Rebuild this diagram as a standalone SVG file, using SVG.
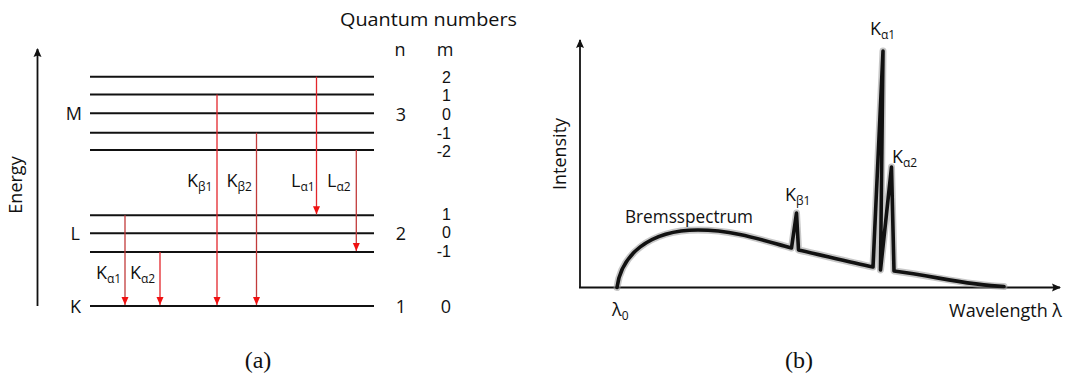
<svg xmlns="http://www.w3.org/2000/svg" width="1065" height="378" viewBox="0 0 1065 378">
<style>
.t{font-family:"Open Sans","Liberation Sans",sans-serif;font-size:18px;fill:#111}
.s{font-size:12px}
.num{font-family:"Liberation Sans",Arial,sans-serif;font-size:16px;fill:#111}
.lvl{stroke:#111;stroke-width:2}
.tb{stroke:#e3262b;stroke-width:1.3}
.td{stroke:#c23b3b;stroke-width:1.3}
.ax{stroke:#111;stroke-width:1.8;fill:none}
.cap{font-family:"Liberation Serif","DejaVu Serif",serif;font-size:24px;fill:#111}
</style>
<defs>
<marker id="ra" markerUnits="userSpaceOnUse" markerWidth="8" markerHeight="9" viewBox="0 0 8 9" refX="4" refY="8.5" orient="0">
<path d="M0.5,0.5 L7.5,0.5 L4,8.5 Z" fill="#f01010"/>
</marker>
<marker id="ka" markerUnits="userSpaceOnUse" markerWidth="10" markerHeight="10" viewBox="0 0 10 10" refX="5" refY="1" orient="0">
<path d="M5,0 L9,9 L5,7.5 L1,9 Z" fill="#111"/>
</marker>
<marker id="kx" markerUnits="userSpaceOnUse" markerWidth="10" markerHeight="10" viewBox="0 0 10 10" refX="9" refY="5" orient="0">
<path d="M10,5 L1,1 L2.5,5 L1,9 Z" fill="#111"/>
</marker>
</defs>

<!-- Panel (a): energy levels -->
<g id="energy-axis">
<line class="ax" x1="37.5" y1="306" x2="37.5" y2="49" marker-end="url(#ka)" stroke-width="1.6"/>
<text class="t" transform="translate(22,185) rotate(-90)" text-anchor="middle">Energy</text>
</g>
<g id="header">
<text class="t" x="340" y="26" font-size="20" textLength="177" lengthAdjust="spacingAndGlyphs">Quantum numbers</text>
<text class="t" x="400" y="56" text-anchor="middle">n</text>
<text class="t" x="445" y="56" text-anchor="middle">m</text>
</g>
<g id="shell-M">
<line class="lvl" x1="90" y1="76.7" x2="374" y2="76.7"/>
<line class="lvl" x1="90" y1="94.5" x2="374" y2="94.5"/>
<line class="lvl" x1="90" y1="113.3" x2="374" y2="113.3"/>
<line class="lvl" x1="90" y1="132.7" x2="374" y2="132.7"/>
<line class="lvl" x1="90" y1="150" x2="374" y2="150"/>
<text class="t" x="82" y="120" text-anchor="end">M</text>
<text class="t" x="401" y="121" text-anchor="middle">3</text>
<g text-anchor="end">
<text class="num" x="451" y="83">2</text>
<text class="num" x="451" y="101">1</text>
<text class="num" x="451" y="119.5">0</text>
<text class="num" x="451" y="138.5">-1</text>
<text class="num" x="451" y="156.5">-2</text>
</g>
</g>
<g id="shell-L">
<line class="lvl" x1="90" y1="215.3" x2="374" y2="215.3"/>
<line class="lvl" x1="90" y1="233.3" x2="374" y2="233.3"/>
<line class="lvl" x1="90" y1="252" x2="374" y2="252"/>
<text class="t" x="80" y="239.5" text-anchor="end">L</text>
<text class="t" x="401" y="239.5" text-anchor="middle">2</text>
<g text-anchor="end">
<text class="num" x="451" y="219.5">1</text>
<text class="num" x="451" y="238">0</text>
<text class="num" x="451" y="256.5">-1</text>
</g>
</g>
<g id="shell-K">
<line class="lvl" x1="90" y1="306" x2="374" y2="306"/>
<text class="t" x="81" y="312.5" text-anchor="end">K</text>
<text class="t" x="401" y="312.5" text-anchor="middle">1</text>
<text class="t" x="451" y="312.5" text-anchor="end">0</text>
</g>

<g id="transitions">
<line class="tb" x1="217" y1="94.5" x2="217" y2="305" marker-end="url(#ra)"/>
<line class="td" x1="256.5" y1="132.7" x2="256.5" y2="305" marker-end="url(#ra)"/>
<line class="tb" x1="316.5" y1="76.7" x2="316.5" y2="214.3" marker-end="url(#ra)"/>
<line class="td" x1="356.3" y1="150" x2="356.3" y2="251" marker-end="url(#ra)"/>
<line class="td" x1="125" y1="215.3" x2="125" y2="305" marker-end="url(#ra)"/>
<line class="tb" x1="160" y1="252" x2="160" y2="305" marker-end="url(#ra)"/>
</g>
<g id="transition-labels">
<text class="t" x="187" y="187">K<tspan class="s" dy="4">β1</tspan></text>
<text class="t" x="226.5" y="187">K<tspan class="s" dy="4">β2</tspan></text>
<text class="t" x="291" y="187">L<tspan class="s" dy="4">α1</tspan></text>
<text class="t" x="327" y="187">L<tspan class="s" dy="4">α2</tspan></text>
<text class="t" x="96" y="279">K<tspan class="s" dy="4">α1</tspan></text>
<text class="t" x="130" y="279">K<tspan class="s" dy="4">α2</tspan></text>
</g>
<text class="cap" x="258" y="368" text-anchor="middle">(a)</text>

<!-- Panel (b): spectrum -->
<g id="spectrum-axes">
<line class="ax" x1="580" y1="288" x2="580" y2="40" marker-end="url(#ka)"/>
<line class="ax" x1="579" y1="287.5" x2="1060" y2="287.5" marker-end="url(#kx)"/>
<text class="t" transform="translate(566,154) rotate(-90)" text-anchor="middle">Intensity</text>
<text class="t" x="1062" y="317" text-anchor="end">Wavelength λ</text>
<text class="t" x="612" y="316">λ<tspan class="s" dy="4">0</tspan></text>
</g>
<g id="spectrum-curve">
<path d="M617,287.5 C621,256 648,230 698,230 C735,230 765,241 791.5,248 L796.5,213 L798.5,250 C825,256 850,262 873,267 L883,51 L880.5,270 L891.5,167 L894,271 C935,276 965,285 1004,286.5" fill="none" stroke="#999" stroke-opacity="0.55" stroke-width="7" stroke-linejoin="round" stroke-linecap="round"/>
<path d="M617,287.5 C621,256 648,230 698,230 C735,230 765,241 791.5,248 L796.5,213 L798.5,250 C825,256 850,262 873,267 L883,51 L880.5,270 L891.5,167 L894,271 C935,276 965,285 1004,286.5" fill="none" stroke="#111" stroke-width="3.6" stroke-linejoin="round" stroke-linecap="round"/>
</g>
<g id="spectrum-labels">
<text class="t" x="625" y="223" textLength="128" lengthAdjust="spacingAndGlyphs">Bremsspectrum</text>
<text class="t" x="785" y="201">K<tspan class="s" dy="4">β1</tspan></text>
<text class="t" x="870" y="35">K<tspan class="s" dy="4">α1</tspan></text>
<text class="t" x="892" y="163">K<tspan class="s" dy="4">α2</tspan></text>
</g>
<text class="cap" x="799" y="368" text-anchor="middle">(b)</text>
</svg>
